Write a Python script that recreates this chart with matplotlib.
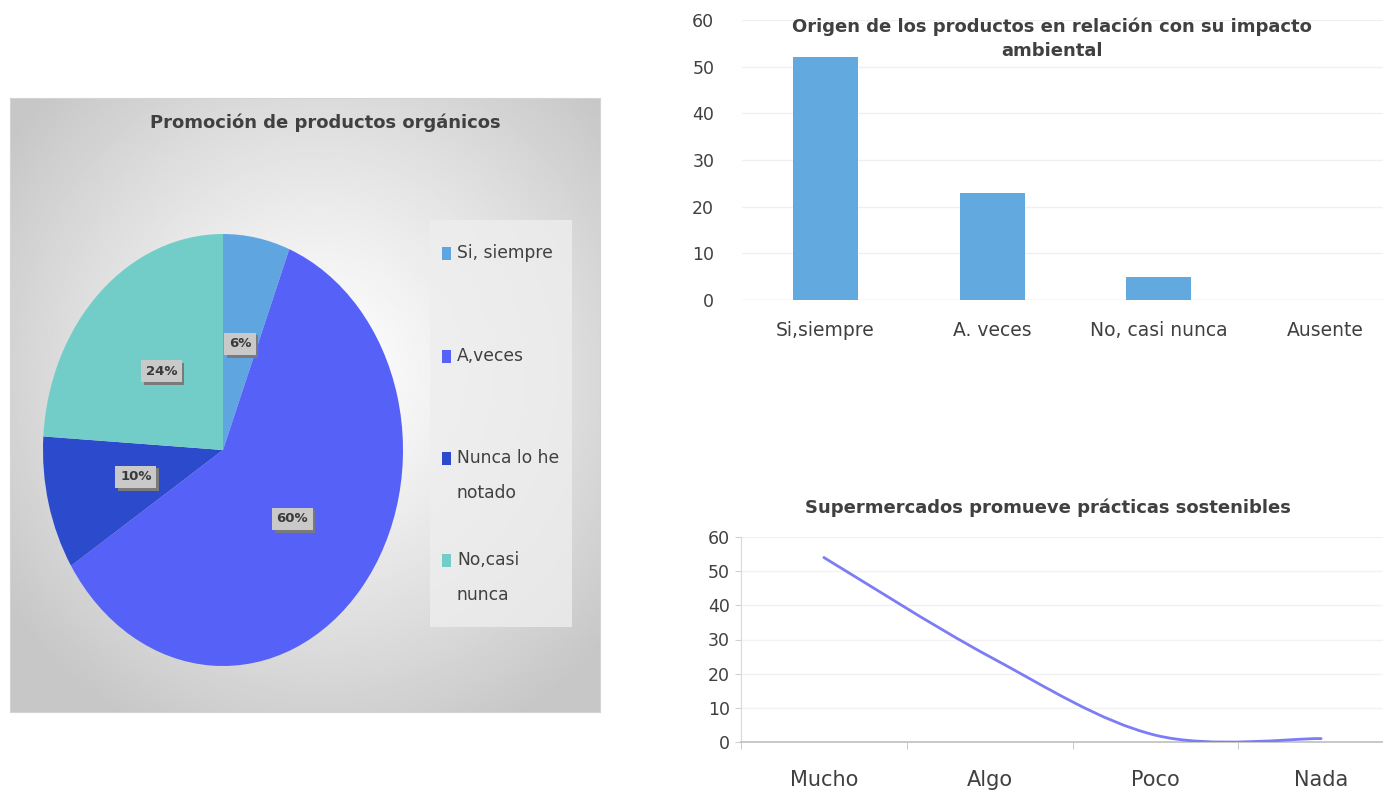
import numpy as np
import matplotlib.pyplot as plt
from matplotlib.path import Path
from matplotlib.patches import PathPatch

plt.rcParams['font.family'] = ['DejaVu Sans']

# datos
pie_labels = ['Si, siempre', 'A,veces', 'Nunca lo he\nnotado', 'No,casi\nnunca']
pie_values = [6, 60, 10, 24]
pie_colors = ['#5fa6e1', '#5661f7', '#2c4acc', '#72cdc8']

bar_cats = ['Si,siempre', 'A. veces', 'No, casi nunca', 'Ausente']
bar_values = [52, 23, 5, 0]

line_cats = ['Mucho', 'Algo', 'Poco', 'Nada']
line_values = [54, 25, 2, 1]

W, H = 1383, 791
fig = plt.figure(figsize=(W / 100, H / 100), dpi=100)
fig.patch.set_facecolor('white')


def box(x0, y0, x1, y1):  # pixeles -> fraccion de figura
    return [x0 / W, 1 - y1 / H, (x1 - x0) / W, (y1 - y0) / H]


# ---------- panel del pastel ----------
bg = fig.add_axes(box(10, 98, 600, 712))
yy, xx = np.mgrid[-1:1:300j, -1:1:300j]
r = np.sqrt((xx - 0.05) ** 2 + (yy + 0.1) ** 2)
grad = 1 - 0.22 * np.clip(r / 1.3, 0, 1) ** 1.2
bg.imshow(grad, cmap='gray', vmin=0, vmax=1, extent=[0, 1, 0, 1], aspect='auto')
bg.set_xticks([])
bg.set_yticks([])
for s in bg.spines.values():
    s.set_color('#d4d4d4')
bg.text(0.535, 0.975, 'Promoción de productos orgánicos', ha='center', va='top',
        fontsize=13, fontweight='bold', color='#404040', transform=bg.transAxes)

# caja de la leyenda
bg.add_patch(plt.Rectangle(((430 - 10) / 590, (712 - 627) / 614), 142 / 590, 407 / 614,
                           transform=bg.transAxes, facecolor='#eeeeee', edgecolor='none', alpha=0.8))

ax1 = fig.add_axes(box(43, 234, 403, 666))
wedges, _ = ax1.pie(pie_values, colors=pie_colors, startangle=90, counterclock=False,
                    radius=1, wedgeprops=dict(linewidth=0))
ax1.set_xlim(-1, 1)
ax1.set_ylim(-1, 1)
ax1.set_aspect('auto')
ax1.axis('off')

# etiquetas de porcentaje
ang = 90
for w, v in zip(wedges, pie_values):
    mid = ang - v * 3.6 / 2
    ang -= v * 3.6
    x, y = 0.5 * np.cos(np.radians(mid)), 0.5 * np.sin(np.radians(mid))
    ax1.text(x + 0.015, y - 0.012, '%d%%' % v, ha='center', va='center', fontsize=9.5,
             fontweight='bold', color='none',
             bbox=dict(boxstyle='square,pad=0.35', facecolor='#7a7a7a', edgecolor='none'))
    ax1.text(x, y, '%d%%' % v, ha='center', va='center', fontsize=9.5, fontweight='bold',
             color='#3a3a3a', bbox=dict(boxstyle='square,pad=0.35', facecolor='#c9c9c9', edgecolor='none'))

# leyenda
leg_y = [254, 357, 459, 561]
for lab, c, y in zip(pie_labels, pie_colors, leg_y):
    fig.patches.append(plt.Rectangle((442 / W, 1 - (y + 6) / H), 9 / W, 13 / H,
                                     transform=fig.transFigure, facecolor=c, edgecolor='none'))
    fig.text(457 / W, 1 - (y - 10) / H, lab, ha='left', va='top', fontsize=12.3,
             color='#404040', linespacing=2.2)

# ---------- barras ----------
ax2 = fig.add_axes(box(742, 20, 742 + 667, 300))
x = np.arange(len(bar_cats))
ax2.bar(x, bar_values, width=0.39, color='#62a9e0', zorder=3)
ax2.set_xlim(-0.5, 3.5)
ax2.set_ylim(0, 60)
ax2.set_yticks(range(0, 61, 10))
ax2.set_xticks(x)
ax2.set_xticklabels(bar_cats)
ax2.tick_params(axis='both', length=0, labelcolor='#404040')
ax2.tick_params(axis='x', pad=15, labelsize=13.5)
ax2.tick_params(axis='y', pad=20, labelsize=12.5)
ax2.grid(axis='y', color='#f0f0f0', linewidth=1, zorder=0)
for s in ax2.spines.values():
    s.set_visible(False)
ax2.axhline(0, color='#e4e4e4', linewidth=1, zorder=2)
fig.text(1052 / W, 1 - 18 / H, 'Origen de los productos en relación con su impacto\nambiental',
         ha='center', va='top', fontsize=13, fontweight='bold', color='#404040', linespacing=1.4)

# ---------- linea suavizada ----------
ax3 = fig.add_axes(box(741, 537, 741 + 663, 742))
ax3.set_xlim(-0.5, 3.5)
ax3.set_ylim(0, 60)
xs = np.arange(len(line_values), dtype=float)
ys = np.array(line_values, dtype=float)
px = np.concatenate([[xs[0]], xs, [xs[-1]]])
py = np.concatenate([[ys[0]], ys, [ys[-1]]])
verts = [(xs[0], ys[0])]
codes = [Path.MOVETO]
for i in range(1, len(xs)):
    p0 = np.array([px[i - 1], py[i - 1]])
    p1 = np.array([px[i], py[i]])
    p2 = np.array([px[i + 1], py[i + 1]])
    p3 = np.array([px[i + 2], py[i + 2]])
    c1 = p1 + (p2 - p0) / 6
    c2 = p2 - (p3 - p1) / 6
    verts += [tuple(c1), tuple(c2), tuple(p2)]
    codes += [Path.CURVE4] * 3
ax3.add_patch(PathPatch(Path(verts, codes), facecolor='none', edgecolor='#7c7cf6',
                        linewidth=2, capstyle='round', zorder=3))
ax3.set_yticks(range(0, 61, 10))
ax3.set_xticks(xs)
ax3.set_xticklabels(line_cats)
ax3.set_xticks(np.arange(-0.5, 3.6, 1), minor=True)
ax3.tick_params(axis='x', which='major', length=0, labelsize=15, labelcolor='#404040', pad=20)
ax3.tick_params(axis='x', which='minor', length=5, color='#bfbfbf', direction='out')
ax3.tick_params(axis='y', length=4, color='#d0d0d0', labelsize=12.5, labelcolor='#404040', pad=4)
ax3.grid(axis='y', color='#f2f2f2', linewidth=1, zorder=0)
for k in ['top', 'right']:
    ax3.spines[k].set_visible(False)
ax3.spines['left'].set_color('#d9d9d9')
ax3.spines['bottom'].set_color('#bfbfbf')
ax3.spines['bottom'].set_linewidth(1.2)
fig.text(1048 / W, 1 - 508 / H, 'Supermercados promueve prácticas sostenibles', ha='center',
         va='center', fontsize=13, fontweight='bold', color='#404040')

fig.savefig('out.png', dpi=100)
